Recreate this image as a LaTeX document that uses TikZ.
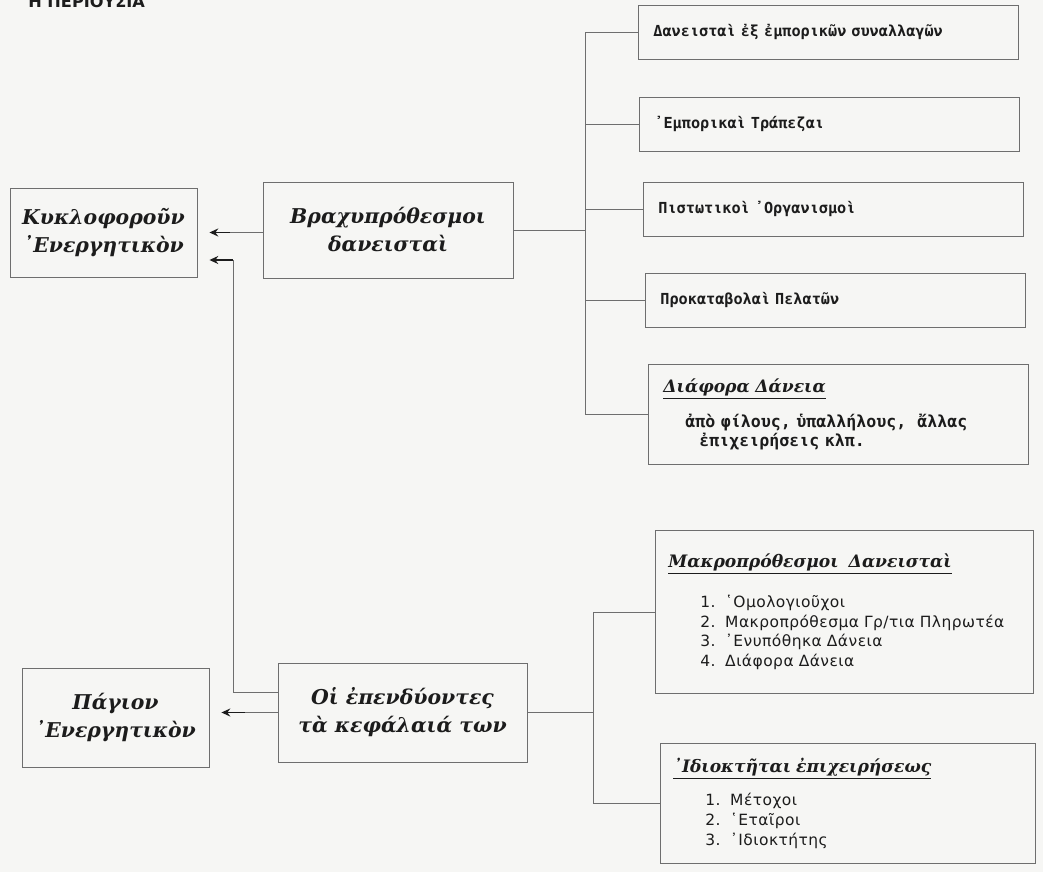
\documentclass[tikz,border=0pt]{standalone}
\usepackage{fontspec}
\usepackage{tikz}
\setmainfont{DejaVu Serif}
\newfontfamily\monofont{DejaVu Sans Mono}
\newfontfamily\listfont{DejaVu Sans}[LetterSpace=3]
\newfontfamily\capfont{DejaVu Sans}
\usetikzlibrary{arrows.meta, positioning, calc}
\definecolor{cPaper}{RGB}{246,246,244}
\definecolor{cLine}{RGB}{110,110,110}
\definecolor{cInk}{RGB}{28,28,28}
\tikzset{
	bigbox/.style ={rectangle, draw=cLine, line width=0.6pt, align=center, inner sep=0pt, text=cInk, font=\fontsize{14.5}{20}\selectfont\bfseries\itshape},
	srcbox/.style ={rectangle, draw=cLine, line width=0.6pt, anchor=north west, align=left, inner xsep=0.375cm, inner ysep=0pt, text width=8.75cm, minimum height=1.35cm, text=cInk, font=\monofont\bfseries\fontsize{10.8}{14}\selectfont},
	link/.style   ={draw=cLine, line width=0.5pt},
	harrow/.style ={-{Stealth[length=2.2mm, width=2mm]}, line width=1.1pt, cInk, shorten >=0.3cm},
}
\newcommand{\hdr}[1]{\underline{\rmfamily\fontsize{12.2}{15}\selectfont\bfseries\itshape #1}}
\newcommand{\itm}[2]{\hspace*{0.8cm}{\listfont\mdseries\fontsize{11}{14}\selectfont\makebox[0.62cm][l]{#1}#2}}

\begin{document}
\begin{tikzpicture}[x=0.025cm, y=-0.025cm]
	\fill[cPaper] (0,0) rectangle (1043,872);
	\useasboundingbox (0,0) rectangle (1043,872);
	\node[anchor=base west, inner sep=0pt, text=cInk, font=\capfont\bfseries\fontsize{11.5}{14}\selectfont] (title) at (28,8) {Η ΠΕΡΙΟΥΣΙΑ};
	% left and middle column
	\node[bigbox, minimum width=4.675cm, minimum height=2.225cm] (kyklo) at (103.5,232.5) {Κυκλοφοροῦν\\᾿Ενεργητικὸν};
	\node[bigbox, minimum width=6.25cm, minimum height=2.4cm] (brax) at (388,230) {Βραχυπρόθεσμοι\\δανεισταὶ};
	\node[bigbox, minimum width=4.675cm, minimum height=2.475cm] (pagio) at (115.5,717.5) {Πάγιον\\᾿Ενεργητικὸν};
	\node[bigbox, minimum width=6.225cm, minimum height=2.475cm] (oi) at (402.5,712.5) {Οἱ ἐπενδύοντες\\τὰ κεφάλαιά των};
	% short-term lenders
	\node[srcbox] (d1) at (638,5) {Δανεισταὶ ἐξ ἐμπορικῶν συναλλαγῶν};
	\node[srcbox] (d2) at (639,97) {᾿Εμπορικαὶ Τράπεζαι};
	\node[srcbox] (d3) at (643,182) {Πιστωτικοὶ ᾿Οργανισμοὶ};
	\node[srcbox] (d4) at (645,273) {Προκαταβολαὶ Πελατῶν};
	\node[srcbox, minimum height=2.5cm, font=\monofont\bfseries\fontsize{11.8}{13.5}\selectfont] (d5) at (648,364) {\hdr{Διάφορα Δάνεια}\\[10pt]
		\hspace*{0.55cm}ἀπὸ φίλους, ὑπαλλήλους,\ \ ἄλλας\\
		\hspace*{0.9cm}ἐπιχειρήσεις κλπ.};
	% long-term sources
	\node[srcbox, minimum width=9.45cm, minimum height=4.075cm, text width=8.8cm, inner xsep=0.325cm] (makro) at (655,530) {\hdr{Μακροπρόθεσμοι\ \ Δανεισταὶ}\\[14pt]
		\itm{1.}{῾Ομολογιοῦχοι}\\
		\itm{2.}{Μακροπρόθεσμα Γρ/τια Πληρωτέα}\\
		\itm{3.}{᾿Ενυπόθηκα Δάνεια}\\
		\itm{4.}{Διάφορα Δάνεια}};
	\node[srcbox, minimum width=9.375cm, minimum height=3cm, text width=8.725cm, inner xsep=0.325cm] (idio) at (660,743) {\hdr{᾿Ιδιοκτῆται ἐπιχειρήσεως}\\[9.5pt]
		\itm{1.}{Μέτοχοι}\\
		\itm{2.}{῾Εταῖροι}\\
		\itm{3.}{᾿Ιδιοκτήτης}};
	% brackets
	\coordinate (bk1) at (585,230);
	\draw[link] (brax.east) -- (bk1);
	\foreach \b in {d1,d2,d3,d4,d5}
		\draw[link] (bk1) |- (\b.west);
	\coordinate (bk2) at (593,712.5);
	\draw[link] (oi.east) -- (bk2);
	\foreach \b in {makro,idio}
		\draw[link] (bk2) |- (\b.west);
	% arrows to the assets
	\draw[link] (brax.west |- kyklo.east) -- ++(-33,0) coordinate (a1);
	\draw[harrow] (a1) -- (a1 -| kyklo.east);
	\coordinate (v1) at (233,260);
	\draw[link] ([yshift=0.5cm]oi.west) -| (v1);
	\draw[harrow] (v1) -- (v1 -| kyklo.east);
	\draw[link] (oi.west) -- ++(-33,0) coordinate (a3);
	\draw[harrow] (a3) -- (a3 -| pagio.east);
\end{tikzpicture}
\end{document}
